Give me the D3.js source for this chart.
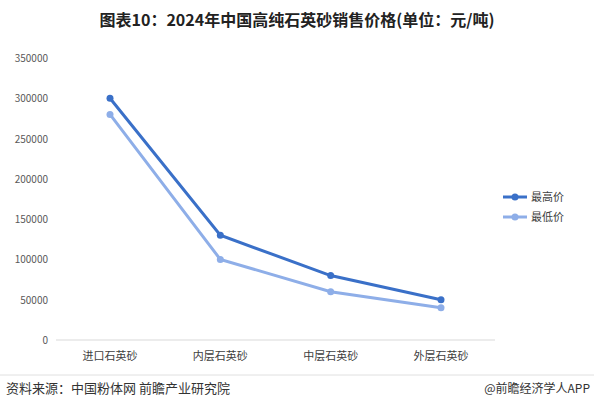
<!DOCTYPE html><html><head><meta charset="utf-8"><script src="https://cdn.jsdelivr.net/npm/d3@7"></script>
<style>body{margin:0;background:#fff}svg{font-family:"Noto Sans CJK SC","Noto Sans",sans-serif}</style></head><body><svg id="c" width="594" height="409"></svg><script>
const categories=["进口石英砂","内层石英砂","中层石英砂","外层石英砂"];
const seriesNames=["最高价","最低价"];
const highValues=[300000,130000,80000,50000];
const lowValues=[280000,100000,60000,40000];
const yTicks=[0,50000,100000,150000,200000,250000,300000,350000];
const colors=["#3a70c8","#8eaee8"];
const svg=d3.select("#c");
svg.append("text").attr("x",297).attr("y",26).attr("text-anchor","middle").attr("font-size",16).attr("font-weight","bold").attr("fill","#222").text("图表10：2024年中国高纯石英砂销售价格(单位：元/吨)");
const x=d3.scalePoint().domain(categories).range([110,441]);
const y=d3.scaleLinear().domain([0,350000]).range([340,58]);
svg.append("line").attr("x1",56).attr("x2",495).attr("y1",340).attr("y2",340).attr("stroke","#d9d9d9");
svg.selectAll(".yt").data(yTicks).join("text").attr("x",48).attr("y",d=>y(d)+4).attr("text-anchor","end").attr("font-size",10).attr("fill","#595959").text(d=>d);
svg.selectAll(".xt").data(categories).join("text").attr("x",d=>x(d)).attr("y",360).attr("text-anchor","middle").attr("font-size",11).attr("fill","#404040").text(d=>d);
[highValues,lowValues].forEach((vals,i)=>{
 const line=d3.line().x((d,j)=>x(categories[j])).y(d=>y(d));
 svg.append("path").attr("d",line(vals)).attr("fill","none").attr("stroke",colors[i]).attr("stroke-width",3);
 svg.selectAll(".p"+i).data(vals).join("circle").attr("cx",(d,j)=>x(categories[j])).attr("cy",d=>y(d)).attr("r",3.5).attr("fill",colors[i]);
 const ly=197+i*20;
 svg.append("line").attr("x1",503).attr("x2",527).attr("y1",ly).attr("y2",ly).attr("stroke",colors[i]).attr("stroke-width",3);
 svg.append("circle").attr("cx",515).attr("cy",ly).attr("r",3.5).attr("fill",colors[i]);
 svg.append("text").attr("x",531).attr("y",ly+4).attr("font-size",11).attr("fill","#404040").text(seriesNames[i]);
});
svg.append("line").attr("x1",0).attr("x2",594).attr("y1",375).attr("y2",375).attr("stroke","#e0e0e0");
svg.append("text").attr("x",6).attr("y",393).attr("font-size",13).attr("fill","#333").text("资料来源：中国粉体网 前瞻产业研究院");
svg.append("text").attr("x",590).attr("y",393).attr("text-anchor","end").attr("font-size",12).attr("fill","#333").text("@前瞻经济学人APP");
</script></body></html>
